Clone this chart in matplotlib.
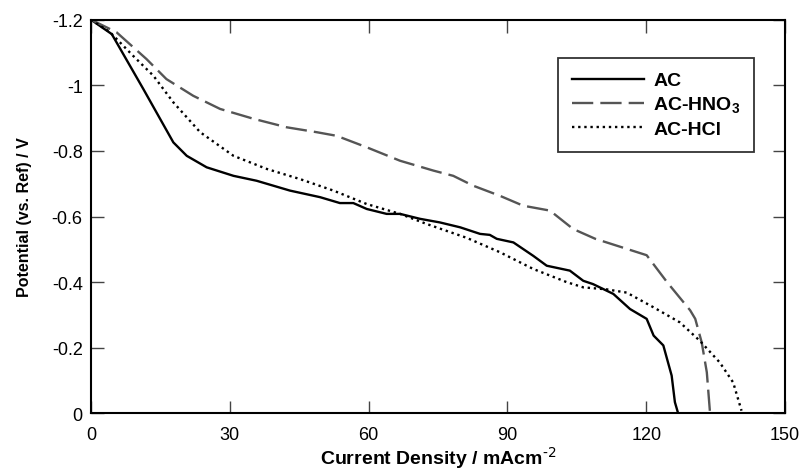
import matplotlib
matplotlib.use('Agg')
import matplotlib.pyplot as plt

plt.rcParams['font.family'] = ['Liberation Sans', 'DejaVu Sans']

# Polarization curves (current density mA/cm2, potential V)
ac_x = [0, 4.5, 11.3, 17.8, 20.7, 25.0, 30.8, 35.8, 43.0, 49.5, 53.8, 56.7, 59.6, 63.9,
        66.8, 71.1, 75.4, 79.8, 84.1, 86.2, 87.7, 91.3, 95.6, 98.5, 103.5, 106.4, 108.5,
        112.9, 116.5, 120.1, 121.6, 123.7, 125.5, 126.2, 126.9]
ac_y = [-1.2, -1.156, -0.989, -0.826, -0.785, -0.750, -0.724, -0.709, -0.679, -0.659,
        -0.641, -0.641, -0.623, -0.608, -0.608, -0.593, -0.582, -0.567, -0.547, -0.544,
        -0.532, -0.521, -0.480, -0.450, -0.435, -0.404, -0.394, -0.364, -0.318, -0.288,
        -0.237, -0.207, -0.115, -0.034, 0.0]

hno3_x = [0, 5.5, 12.0, 16.3, 22.1, 27.9, 35.1, 42.3, 48.8, 53.1, 59.6, 66.8, 74.0, 78.3,
          82.6, 88.4, 93.4, 99.2, 104.2, 109.0, 120.1, 124.5, 129.5, 130.6, 132.0, 133.1,
          133.8]
hno3_y = [-1.2, -1.162, -1.08, -1.019, -0.968, -0.928, -0.898, -0.872, -0.857, -0.846,
          -0.811, -0.770, -0.740, -0.724, -0.694, -0.663, -0.633, -0.618, -0.562, -0.532,
          -0.482, -0.400, -0.314, -0.288, -0.216, -0.125, 0.0]

hcl_x = [0, 4.1, 9.1, 13.5, 17.8, 23.6, 30.8, 38.0, 45.2, 52.4, 59.6, 66.8, 72.6, 81.2,
         88.4, 95.6, 102.8, 106.4, 111.4, 115.8, 121.6, 127.3, 131.6, 135.9, 138.8, 140.6]
hcl_y = [-1.2, -1.162, -1.09, -1.029, -0.948, -0.857, -0.785, -0.745, -0.714, -0.679,
         -0.638, -0.608, -0.577, -0.535, -0.491, -0.440, -0.400, -0.384, -0.378, -0.368,
         -0.323, -0.277, -0.221, -0.155, -0.094, -0.008]

x_ticks = [0, 30, 60, 90, 120, 150]
y_ticks = [0, -0.2, -0.4, -0.6, -0.8, -1.0, -1.2]
y_tick_labels = ['0', '-0.2', '-0.4', '-0.6', '-0.8', '-1', '-1.2']

fig = plt.figure(figsize=(8.03, 4.77), dpi=100)
ax = fig.add_axes([0.1133, 0.1314, 0.8643, 0.8252])

ax.plot(ac_x, ac_y, color='black', lw=1.7, label='AC')
ax.plot(hno3_x, hno3_y, color='#555555', lw=1.7, dashes=(9, 3), label='AC-HNO$_\\mathregular{3}$')
ax.plot(hcl_x, hcl_y, color='black', lw=1.7, dashes=(1, 1.6), label='AC-HCl')

ax.set_xlim(0, 150)
ax.set_ylim(0, -1.2)
ax.set_xticks(x_ticks)
ax.set_yticks(y_ticks)
ax.set_yticklabels(y_tick_labels)
ax.tick_params(direction='in', length=9, width=1, labelsize=13, top=True, right=True,
               colors='#444444', labelcolor='black')
ax.tick_params(axis='x', pad=9)
ax.tick_params(axis='y', pad=6)
for sp in ax.spines.values():
    sp.set_linewidth(1.5)

ax.set_xlabel('Current Density / mAcm$^{\\text{-2}}$', fontsize=14,
              fontweight='bold', labelpad=1)
ax.set_ylabel('Potential (vs. Ref) / V', fontsize=11.5, fontweight='bold', labelpad=14)

leg = ax.legend(loc='upper left', bbox_to_anchor=(0.673, 0.902), fontsize=14,
                frameon=True, fancybox=False, edgecolor='black', handlelength=3.7,
                borderpad=0.7, labelspacing=0.28, handletextpad=0.5, borderaxespad=0)
leg.get_frame().set_linewidth(1.3)
for t in leg.get_texts():
    t.set_fontweight('bold')

fig.savefig('out.png', dpi=100)
